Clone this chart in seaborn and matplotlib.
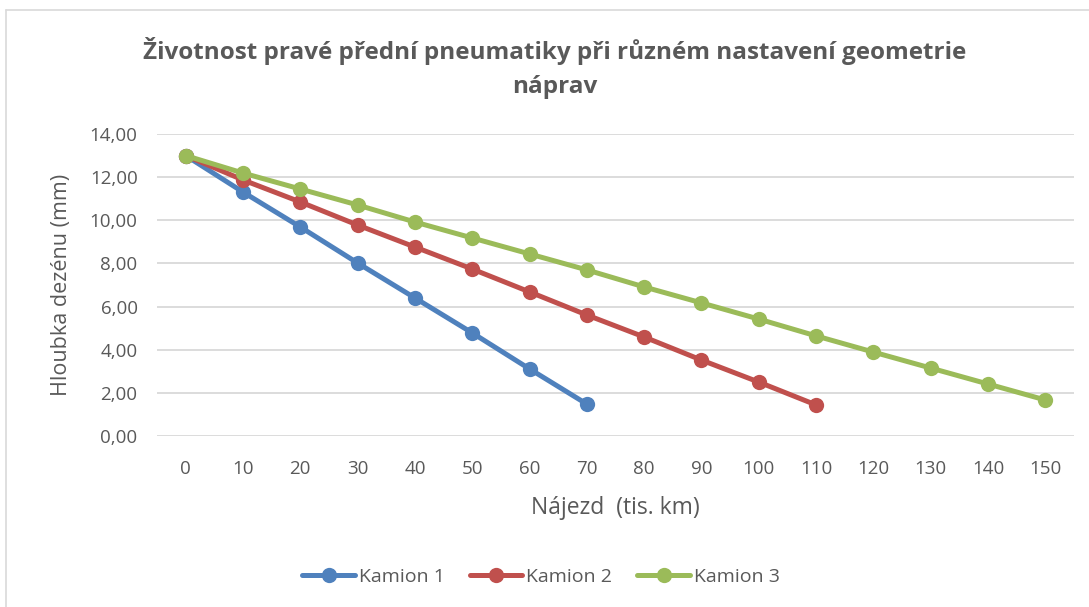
import pandas as pd
import matplotlib.pyplot as plt
import seaborn as sns
from matplotlib.lines import Line2D
from matplotlib.ticker import FuncFormatter

# Nájezd (tis. km)
km_1 = [0, 10, 20, 30, 40, 50, 60, 70]
km_2 = [0, 10, 20, 30, 40, 50, 60, 70, 80, 90, 100, 110]
km_3 = [0, 10, 20, 30, 40, 50, 60, 70, 80, 90, 100, 110, 120, 130, 140, 150]

# Hloubka dezénu (mm)
kamion_1 = [13.0, 11.31, 9.69, 8.02, 6.40, 4.78, 3.11, 1.48]
kamion_2 = [13.0, 11.87, 10.85, 9.78, 8.76, 7.74, 6.68, 5.61, 4.59, 3.52, 2.50, 1.44]
kamion_3 = [13.0, 12.19, 11.45, 10.71, 9.92, 9.18, 8.44, 7.70, 6.91, 6.17,
            5.42, 4.64, 3.89, 3.15, 2.41, 1.67]

series_names = ["Kamion 1", "Kamion 2", "Kamion 3"]
colors = ["#4F81BD", "#C0504D", "#9BBB59"]

frames = []
for name, km, depth in zip(series_names, [km_1, km_2, km_3], [kamion_1, kamion_2, kamion_3]):
    frames.append(pd.DataFrame({"km": km, "depth": depth, "serie": name}))
data = pd.concat(frames, ignore_index=True)

sns.set_style("white")
plt.rcParams['font.family'] = ['Open Sans', 'DejaVu Sans']
text_color = "#595959"

fig = plt.figure(figsize=(10.89, 6.07), dpi=100)
ax = fig.add_axes([157 / 1089, 1 - 436 / 607, (1074 - 157) / 1089, (436 - 134) / 607])

sns.lineplot(data=data, x="km", y="depth", hue="serie", palette=colors,
             marker="o", markersize=11, markeredgewidth=0, linewidth=3.6,
             ax=ax, legend=False)

ax.set_xlim(-5, 155)
ax.set_ylim(0, 14)
ax.set_xticks(km_3)
ax.set_yticks(range(0, 15, 2))
ax.yaxis.set_major_formatter(FuncFormatter(lambda v, p: f"{v:.2f}".replace(".", ",")))
ax.grid(axis="y", color="#D9D9D9", linewidth=1.3)
ax.grid(axis="x", visible=False)
for s in ax.spines.values():
    s.set_visible(False)
ax.tick_params(axis="both", length=0, labelsize=13.5, colors=text_color)
ax.tick_params(axis="x", pad=17)
ax.tick_params(axis="y", pad=14)
ax.set_xlabel("Nájezd  (tis. km)", fontsize=16.5, color=text_color, labelpad=13)
ax.set_ylabel("Hloubka dezénu (mm)", fontsize=15.5, color=text_color, labelpad=13)

fig.text(555 / 1089, 1 - 68 / 607,
         "Životnost pravé přední pneumatiky při různém nastavení geometrie\nnáprav",
         ha="center", va="center", fontsize=17.5, fontweight="bold",
         color=text_color, linespacing=1.55)

handles = [Line2D([0], [0], color=c, linewidth=3.6, marker="o", markersize=11,
                  markeredgewidth=0) for c in colors]
fig.legend(handles, series_names, loc="center", bbox_to_anchor=(541 / 1089, 1 - 577 / 607),
           ncol=3, frameon=False, fontsize=14, labelcolor=text_color,
           handlelength=2.7, handletextpad=0.2, columnspacing=1.3)

# okraj grafu
fig.add_artist(Line2D([6 / 1089, 6 / 1089], [0, 1 - 10 / 607], color="#D9D9D9", linewidth=1.2))
fig.add_artist(Line2D([6 / 1089, 1], [1 - 10 / 607, 1 - 10 / 607], color="#D9D9D9", linewidth=1.2))

fig.savefig("out.png", dpi=100)
